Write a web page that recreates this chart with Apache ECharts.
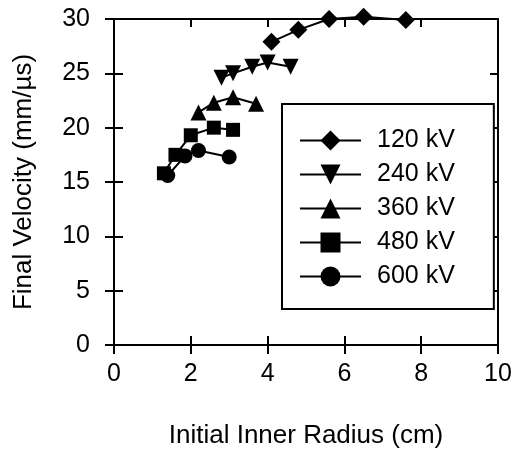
<!DOCTYPE html>
<html>
<head>
<meta charset="utf-8">
<script src="https://cdn.jsdelivr.net/npm/echarts@6/dist/echarts.min.js"></script>
<style>
  html, body { margin: 0; padding: 0; background: #fff; }
  #chart { width: 518px; height: 454px; }
</style>
</head>
<body>
<div id="chart"></div>
<script>
// initial inner radius (cm) and final velocity (mm/us) per charging voltage
const seriesNames = ['120 kV', '240 kV', '360 kV', '480 kV', '600 kV']
const r120 = [4.1, 4.8, 5.6, 6.5, 7.6]
const v120 = [27.9, 29.0, 30.0, 30.2, 29.9]
const r240 = [2.8, 3.1, 3.6, 4.0, 4.6]
const v240 = [24.6, 25.0, 25.6, 26.0, 25.6]
const r360 = [2.2, 2.6, 3.1, 3.7]
const v360 = [21.4, 22.3, 22.8, 22.2]
const r480 = [1.3, 1.6, 2.0, 2.6, 3.1]
const v480 = [15.8, 17.5, 19.3, 20.0, 19.8]
const r600 = [1.4, 1.85, 2.2, 3.0]
const v600 = [15.6, 17.4, 17.9, 17.3]

const radii = [r120, r240, r360, r480, r600]
const velocities = [v120, v240, v360, v480, v600]
const symbols = ['diamond', 'path://M0,0 L10,0 L5,10 Z', 'triangle', 'rect', 'circle']
const symbolSizes = [18, 16, 16, 14, 15]

const font = 'Liberation Sans, Arial, sans-serif'
const black = '#000'

const chart = echarts.init(document.getElementById('chart'))

const xBase = { type: 'value', min: 0, max: 10, interval: 2, gridIndex: 0, splitLine: { show: false } }
const yBase = { type: 'value', min: 0, max: 30, interval: 5, gridIndex: 0, splitLine: { show: false } }
const line = { onZero: false, lineStyle: { color: black, width: 2 } }
const tick = (inside, length) => ({ inside, length, lineStyle: { color: black, width: 2 } })

chart.setOption({
  backgroundColor: '#fff',
  animation: false,
  grid: { left: 114, right: 20, top: 19, bottom: 108 },
  xAxis: [
    {
      ...xBase,
      position: 'bottom',
      name: 'Initial Inner Radius (cm)',
      nameLocation: 'middle',
      nameGap: 78,
      nameTextStyle: { color: black, fontSize: 26, fontFamily: font },
      axisLine: line,
      axisTick: tick(false, 9),
      axisLabel: { color: black, fontSize: 25, fontFamily: font, margin: 17 }
    },
    { ...xBase, position: 'bottom', axisLine: line, axisTick: tick(true, 9), axisLabel: { show: false } },
    { ...xBase, position: 'top', axisLine: line, axisTick: tick(true, 8), axisLabel: { show: false } }
  ],
  yAxis: [
    {
      ...yBase,
      position: 'left',
      name: 'Final Velocity (mm/µs)',
      nameLocation: 'middle',
      nameGap: 77,
      nameTextStyle: { color: black, fontSize: 26, fontFamily: font },
      axisLine: line,
      axisTick: tick(false, 9),
      axisLabel: { color: black, fontSize: 25, fontFamily: font, margin: 24 }
    },
    { ...yBase, position: 'left', axisLine: line, axisTick: tick(true, 9), axisLabel: { show: false } },
    { ...yBase, position: 'right', axisLine: line, axisTick: tick(true, 8), axisLabel: { show: false } }
  ],
  legend: {
    orient: 'vertical',
    left: 282,
    top: 104,
    data: seriesNames,
    itemWidth: 61,
    itemHeight: 25,
    itemGap: 9,
    padding: [24, 39, 20, 17],
    borderColor: black,
    borderWidth: 2,
    backgroundColor: '#fff',
    textStyle: { color: black, fontSize: 25, fontFamily: font, padding: [0, 0, 0, 11] }
  },
  series: seriesNames.map((name, i) => ({
    name,
    type: 'line',
    clip: false,
    symbol: symbols[i],
    symbolSize: symbolSizes[i],
    itemStyle: { color: black },
    lineStyle: { color: black, width: 2 },
    data: radii[i].map((r, j) => [r, velocities[i][j]])
  }))
})
</script>
</body>
</html>
